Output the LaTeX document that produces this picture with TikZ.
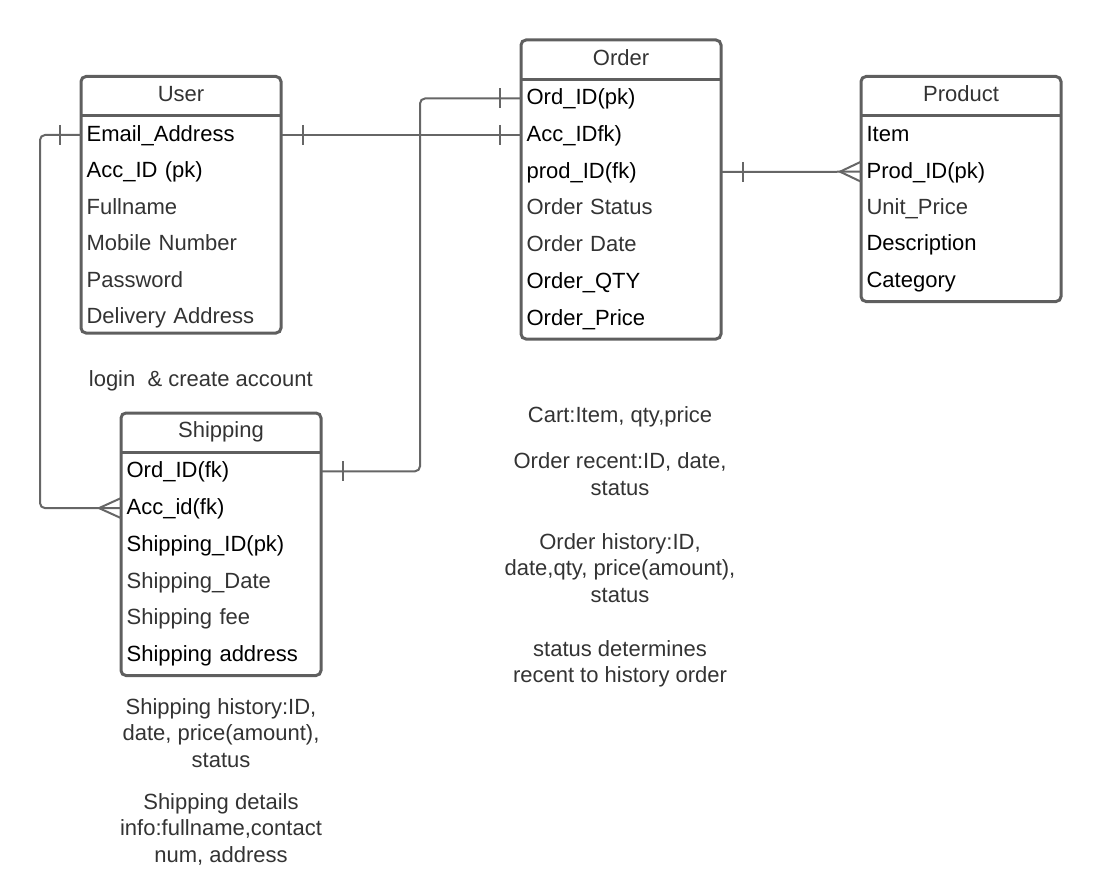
\documentclass[tikz,border=0pt]{standalone}
\usepackage{fontspec}
\setmainfont{Liberation Sans}
\usetikzlibrary{fit}
\definecolor{boxgray}{HTML}{5F5F5F}
\definecolor{linegray}{HTML}{666666}
\definecolor{txtgray}{HTML}{333333}
\begin{document}
\begin{tikzpicture}[x=0.75pt,y=-0.75pt,
  tbl/.style={draw=boxgray, line width=2.25pt, rounded corners=3.75pt, inner sep=0pt},
  sepline/.style={draw=boxgray, line width=2.25pt},
  hdr/.style={font=\fontsize{16.5}{20}\selectfont, text=txtgray, inner sep=0pt, text height=11.8pt, text depth=0pt},
  field/.style={anchor=west, font=\fontsize{16.5}{20}\selectfont, minimum width=150pt, text width=142pt, inner xsep=4pt, inner ysep=0pt, align=left, text height=11.8pt, text depth=2.25pt},
  key/.style={field, text=black},
  attr/.style={field, text=txtgray},
  conn/.style={draw=linegray, line width=1.5pt, rounded corners=3.75pt},
  tickmk/.style={draw=linegray, line width=1.5pt},
  note/.style={font=\fontsize{16.5}{20}\selectfont, text=txtgray, align=center, inner sep=0pt, anchor=north}
]
\useasboundingbox (0,0) rectangle (1102,891);

% ---------- tables ----------
\node[tbl, fit={(81,76.5) (281,333)}] (user) {};
\node[tbl, fit={(521,40) (721,339)}] (order) {};
\node[tbl, fit={(861,76.5) (1061,301.5)}] (product) {};
\node[tbl, fit={(121,413) (321,675.5)}] (shipping) {};

\draw[sepline] (81,116) -- (281,116);
\draw[sepline] (521,79.5) -- (721,79.5);
\draw[sepline] (861,116) -- (1061,116);
\draw[sepline] (121,452.5) -- (321,452.5);

\node[hdr] (userh) at (181,94) {User};
\node[hdr] (orderh) at (621,57.5) {Order};
\node[hdr] (producth) at (961,94) {Product};
\node[hdr] (shippingh) at (221,430) {Shipping};

% User fields
\node[key]  (u1) at (81,135)   {Email\_Address};
\node[key]  (u2) at (81,171.5) {Acc\_ID (pk)};
\node[attr] (u3) at (81,208)   {Fullname};
\node[attr] (u4) at (81,244.5) {Mobile Number};
\node[attr] (u5) at (81,281)   {Password};
\node[attr] (u6) at (81,317.5) {Delivery Address};

% Order fields
\node[key]  (o1) at (521,98.5)  {Ord\_ID(pk)};
\node[key]  (o2) at (521,135)   {Acc\_IDfk)};
\node[key]  (o3) at (521,172)   {prod\_ID(fk)};
\node[attr] (o4) at (521,208.5) {Order Status};
\node[attr] (o5) at (521,245.3) {Order Date};
\node[key]  (o6) at (521,282)   {Order\_QTY};
\node[key]  (o7) at (521,318.7) {Order\_Price};

% Product fields
\node[key]  (p1) at (861,135)   {Item};
\node[key]  (p2) at (861,171.7) {Prod\_ID(pk)};
\node[attr] (p3) at (861,208)   {Unit\_Price};
\node[key]  (p4) at (861,244.5) {Description};
\node[key]  (p5) at (861,281)   {Category};

% Shipping fields
\node[key]  (s1) at (121,471.3) {Ord\_ID(fk)};
\node[key]  (s2) at (121,508.1) {Acc\_id(fk)};
\node[key]  (s3) at (121,544.9) {Shipping\_ID(pk)};
\node[attr] (s4) at (121,581.7) {Shipping\_Date};
\node[attr] (s5) at (121,618.5) {Shipping fee};
\node[key]  (s6) at (121,655.3) {Shipping address};

% ---------- connectors ----------
\coordinate (bendA) at (420,0);
\coordinate (bendB) at (40,0);

\draw[conn] (u1.east) -- (o2.west);
\draw[conn] (o1.west) -- (o1.west -| bendA) -- (s1.east -| bendA) -- (s1.east);
\draw[conn] (u1.west) -- (u1.west -| bendB) -- (s2.west -| bendB) -- (s2.west);
\draw[conn] (o3.east) -- (p2.west);

% one marks
\draw[tickmk] ([shift={(21,-10)}]u1.east) -- ([shift={(21,10)}]u1.east);
\draw[tickmk] ([shift={(-21,-10)}]o2.west) -- ([shift={(-21,10)}]o2.west);
\draw[tickmk] ([shift={(-21,-10)}]o1.west) -- ([shift={(-21,10)}]o1.west);
\draw[tickmk] ([shift={(21,-10)}]s1.east) -- ([shift={(21,10)}]s1.east);
\draw[tickmk] ([shift={(-21,-10)}]u1.west) -- ([shift={(-21,10)}]u1.west);
\draw[tickmk] ([shift={(21,-10)}]o3.east) -- ([shift={(21,10)}]o3.east);

% crow's feet
\draw[tickmk] ([shift={(0,-10)}]s2.west) -- ([shift={(-22,0)}]s2.west) -- ([shift={(0,10)}]s2.west);
\draw[tickmk] ([shift={(0,-10)}]p2.west) -- ([shift={(-21,0)}]p2.west) -- ([shift={(0,10)}]p2.west);

% ---------- notes ----------
\node[note] (n1) at (200.8,370) {login\ \ \& create account};
\node[note] (n2) at (620,406.7) {Cart:Item, qty,price};
\node[note] (n3) at (620,452.3) {Order recent:ID, date,\\status};
\node[note] (n4) at (620,533) {Order history:ID,\\date,qty, price(amount),\\status};
\node[note] (n5) at (620,640) {status determines\\recent to history order};
\node[note] (n6) at (221,698) {Shipping history:ID,\\date, price(amount),\\status};
\node[note] (n7) at (221,793) {Shipping details\\info:fullname,contact\\num, address};
\end{tikzpicture}
\end{document}
